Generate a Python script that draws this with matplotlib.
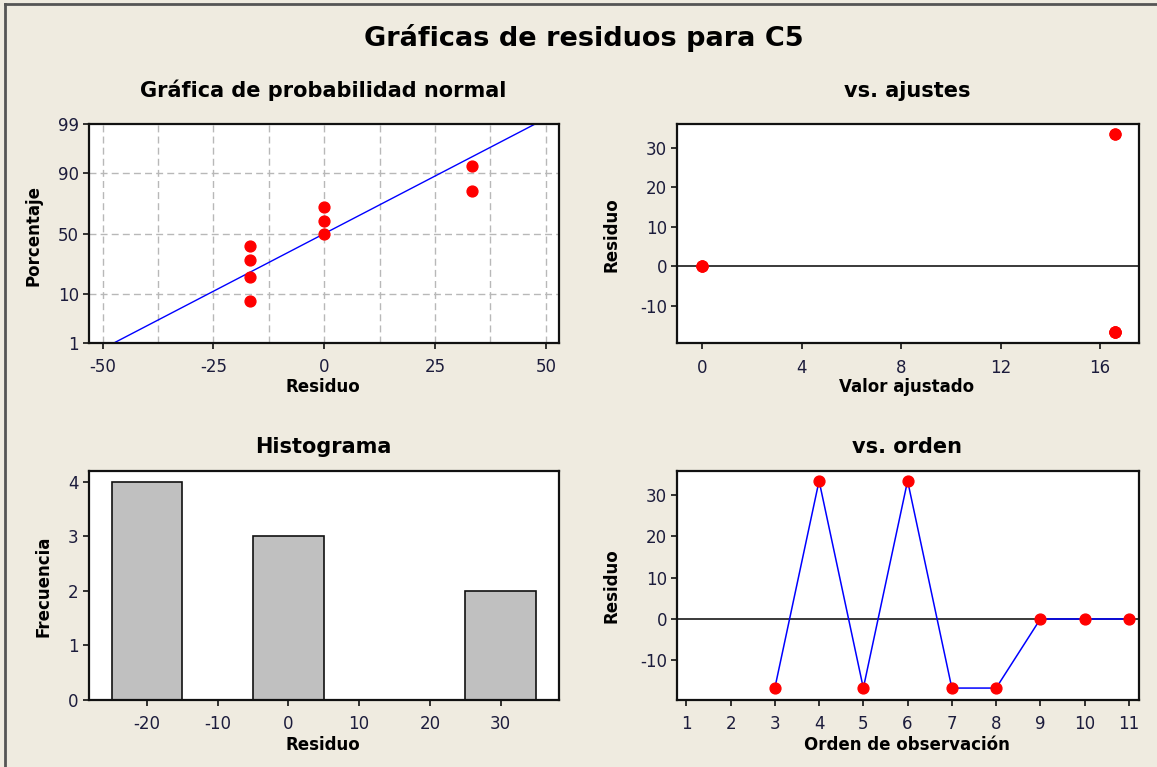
import numpy as np
import matplotlib
matplotlib.use("Agg")
import matplotlib.pyplot as plt
from matplotlib.lines import Line2D
from statistics import NormalDist

# ---------------- data ----------------
observation_order = [1, 2, 3, 4, 5, 6, 7, 8, 9, 10, 11]
residual_by_order = [np.nan, np.nan, -16.67, 33.33, -16.67, 33.33, -16.67, -16.67, 0.0, 0.0, 0.0]
fitted_by_order = [np.nan, np.nan, 16.62, 16.62, 16.62, 16.62, 16.62, 16.62, 0.0, 0.0, 0.0]

sorted_residuals = [-16.67, -16.67, -16.67, -16.67, 0.0, 0.0, 0.0, 33.33, 33.33]
prob_percent = [7.45, 18.09, 28.72, 39.36, 50.0, 60.64, 71.28, 81.91, 92.55]
fit_mean = 0.0
fit_sd = 20.41

hist_centers = [-20, -10, 0, 10, 20, 30]
hist_counts = [4, 0, 3, 0, 0, 2]
hist_width = 10

prob_ticks = [1, 10, 50, 90, 99]
prob_grid = [10, 50, 90]

# ---------------- style ----------------
W, H = 1157, 767
BG = "#EFEBE0"
TICKC = "#1c1c3c"
RED = "#FF0000"
BLUE = "#0000FF"
FONT = "DejaVu Sans"

plt.rcParams["font.family"] = [FONT]
plt.rcParams["axes.unicode_minus"] = False

fig = plt.figure(figsize=(W / 100, H / 100), dpi=100, facecolor=BG)


def ax_at(left, top, right, bottom):
    return fig.add_axes([left / W, 1 - bottom / H, (right - left) / W, (bottom - top) / H])


def fx(px):
    return px / W


def fy(py):
    return 1 - py / H


def style(ax):
    ax.set_facecolor("white")
    for s in ax.spines.values():
        s.set_linewidth(1.6)
        s.set_color("#111111")
    ax.tick_params(direction="out", length=4, width=1.2, color="#111111",
                   labelsize=12, labelcolor=TICKC, top=False, right=False)
    ax.tick_params(axis="x", pad=7)
    ax.tick_params(axis="y", pad=3)


nd = NormalDist()

# ---- Normal probability plot ----
ax1 = ax_at(88.5, 124.3, 558.6, 343)
style(ax1)
zlo, zhi = nd.inv_cdf(0.01), nd.inv_cdf(0.99)
ax1.set_xlim(-53.2, 52.9)
ax1.set_ylim(zlo, zhi)
for g in np.arange(-50, 50.1, 12.5):
    ax1.axvline(g, color="#B8B8B8", lw=1, dashes=(5, 3), zorder=0)
for p in prob_grid:
    ax1.axhline(nd.inv_cdf(p / 100), color="#B8B8B8", lw=1, dashes=(5, 3), zorder=0)
zline = np.linspace(zlo, zhi, 50)
ax1.plot(fit_mean + fit_sd * zline, zline, color=BLUE, lw=1, zorder=2)
ax1.plot(sorted_residuals, [nd.inv_cdf(p / 100) for p in prob_percent], "o",
         color=RED, ms=7.8, mec=RED, zorder=3)
ax1.set_xticks([-50, -25, 0, 25, 50])
ax1.set_yticks([nd.inv_cdf(p / 100) for p in prob_ticks])
ax1.set_yticklabels([str(p) for p in prob_ticks])

# ---- vs. fits ----
ax2 = ax_at(676.8, 124.3, 1138.6, 343.3)
style(ax2)
ax2.set_xlim(-1.03, 17.55)
ax2.set_ylim(-19.5, 35.9)
ax2.axhline(0, color="#3a3a3a", lw=1.4, zorder=1)
ax2.plot(fitted_by_order, residual_by_order, "o", color=RED, ms=7.8, mec=RED, zorder=3)
ax2.set_xticks([0, 4, 8, 12, 16])
ax2.set_yticks([-10, 0, 10, 20, 30])

# ---- Histogram ----
ax3 = ax_at(88.5, 471, 558.6, 700)
style(ax3)
ax3.bar(hist_centers, hist_counts, width=hist_width, color="#C0C0C0",
        edgecolor="#111111", linewidth=1.2, zorder=2)
ax3.set_xlim(-28.26, 38.2)
ax3.set_ylim(0, 4.2)
ax3.set_xticks([-20, -10, 0, 10, 20, 30])
ax3.set_yticks([0, 1, 2, 3, 4])

# ---- vs. order ----
ax4 = ax_at(676.8, 471, 1138.6, 700)
style(ax4)
ax4.set_xlim(0.785, 11.22)
ax4.set_ylim(-19.55, 35.7)
ax4.axhline(0, color="#3a3a3a", lw=1.4, zorder=1)
ax4.plot(observation_order, residual_by_order, "-", color=BLUE, lw=1.1, zorder=2)
ax4.plot(observation_order, residual_by_order, "o", color=RED, ms=7.8, mec=RED, zorder=3)
ax4.set_xticks(observation_order)
ax4.set_yticks([-10, 0, 10, 20, 30])

# ---------------- texts ----------------
fig.text(fx(584), fy(46), "Gráficas de residuos para C5", ha="center", va="baseline",
         fontsize=19.5, fontweight="bold", color="black")
fig.text(fx(323), fy(97), "Gráfica de probabilidad normal", ha="center", va="baseline",
         fontsize=15, fontweight="bold", color="black")
fig.text(fx(907), fy(97), "vs. ajustes", ha="center", va="baseline",
         fontsize=15, fontweight="bold", color="black")
fig.text(fx(323), fy(453), "Histograma", ha="center", va="baseline",
         fontsize=15, fontweight="bold", color="black")
fig.text(fx(907), fy(453), "vs. orden", ha="center", va="baseline",
         fontsize=15, fontweight="bold", color="black")

lab = dict(fontsize=12, fontweight="bold", color="black")
fig.text(fx(323), fy(387.5), "Residuo", ha="center", va="center", **lab)
fig.text(fx(907), fy(387), "Valor ajustado", ha="center", va="center", **lab)
fig.text(fx(323), fy(745), "Residuo", ha="center", va="center", **lab)
fig.text(fx(907), fy(745), "Orden de observación", ha="center", va="center", **lab)
fig.text(fx(33), fy(235.5), "Porcentaje", ha="center", va="center", rotation=90, **lab)
fig.text(fx(612), fy(235), "Residuo", ha="center", va="center", rotation=90, **lab)
fig.text(fx(43.5), fy(586.7), "Frecuencia", ha="center", va="center", rotation=90, **lab)
fig.text(fx(612), fy(586), "Residuo", ha="center", va="center", rotation=90, **lab)

# window frame (top and left edges)
fig.add_artist(Line2D([fx(5), fx(5)], [fy(4), 0], transform=fig.transFigure,
                      color="#555555", lw=2))
fig.add_artist(Line2D([fx(5), 1], [fy(4), fy(4)], transform=fig.transFigure,
                      color="#555555", lw=2))

fig.savefig("out.png", dpi=100, facecolor=BG)
